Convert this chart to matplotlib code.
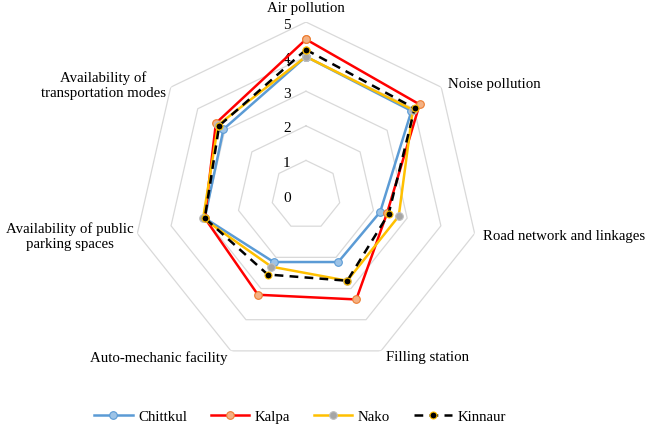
import numpy as np
import matplotlib
matplotlib.use('Agg')
import matplotlib.pyplot as plt

plt.rcParams['font.family'] = 'serif'
plt.rcParams['font.serif'] = ['Liberation Serif', 'Times New Roman', 'DejaVu Serif']

# categories, clockwise from the top
categories = ['Air pollution', 'Noise pollution', 'Road network and linkages',
              'Filling station', 'Auto-mechanic facility',
              'Availability of public\nparking spaces',
              'Availability of\ntransportation modes']

chittkul = [4.0, 3.9, 2.2, 2.15, 2.15, 3.0, 3.05]
kalpa = [4.5, 4.2, 2.4, 3.35, 3.2, 3.0, 3.33]
nako = [4.0, 3.95, 2.75, 2.75, 2.3, 3.05, 3.25]
kinnaur = [4.2, 4.02, 2.45, 2.75, 2.55, 3.0, 3.21]

ring_values = [1, 2, 3, 4, 5]
tick_labels = ['0', '1', '2', '3', '4', '5']

n = len(categories)
angles = np.arange(n) * 2 * np.pi / n
closed = np.append(angles, angles[0])

fig = plt.figure(figsize=(6.49, 4.27), dpi=100)
ax = fig.add_axes([0.2049, 0.1358, 0.5331, 0.8103], projection='polar')
ax.set_theta_zero_location('N')
ax.set_theta_direction(-1)
ax.set_ylim(0, 5)
ax.grid(False)
ax.spines['polar'].set_visible(False)
ax.set_xticks([])
ax.set_yticks([])
ax.patch.set_alpha(0)

# heptagon gridlines
for v in ring_values:
    ax.plot(closed, [v] * (n + 1), color='#D9D9D9', lw=0.9, zorder=1)

# radial value labels
for i, t in enumerate(tick_labels):
    ax.annotate(t, xy=(0, i), xytext=(-19, -2), textcoords='offset pixels',
                ha='center', va='center', fontsize=11)

def close(vals):
    return list(vals) + [vals[0]]

ax.plot(closed, close(chittkul), color='#5B9BD5', lw=1.8, marker='o', ms=5.5,
        mfc='#9DC3E6', mec='#5B9BD5', mew=0.8, label='Chittkul', zorder=3)
ax.plot(closed, close(kalpa), color='#FF0000', lw=1.8, marker='o', ms=5.5,
        mfc='#F4B183', mec='#ED7D31', mew=0.8, label='Kalpa', zorder=3)
ax.plot(closed, close(nako), color='#FFC000', lw=1.8, marker='o', ms=5.5,
        mfc='#A5A5A5', mec='#BFBFBF', mew=0.8, label='Nako', zorder=3)
ax.plot(closed, close(kinnaur), color='black', lw=1.8, dashes=(3.5, 2.5),
        marker='o', ms=5, mfc='black', mec='#FFC000', mew=0.8,
        label='Kinnaur', zorder=4)

# category labels: (offset px, ha)
label_pos = [((0, 15), 'center'), ((7, 4), 'left'), ((8, -2), 'left'),
             ((5, -6), 'left'), ((-3, -6), 'right'), ((-4, -2), 'right'),
             ((-5, 3), 'right')]
for a, name, (off, ha) in zip(angles, categories, label_pos):
    ax.annotate(name, xy=(a, 5), xytext=off, textcoords='offset pixels',
                ha=ha, va='center', multialignment='center', fontsize=10.7,
                annotation_clip=False)

fig.legend(loc='center', bbox_to_anchor=(300 / 649, 10 / 427), ncol=4,
           frameon=False, fontsize=10.7, handlelength=2.6, handletextpad=0.35,
           columnspacing=1.6)

fig.savefig('out.png', dpi=100)
